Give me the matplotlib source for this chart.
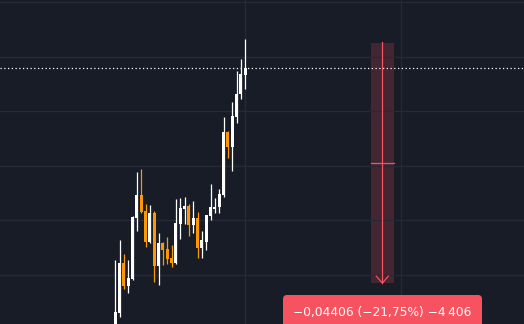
import matplotlib
matplotlib.use("Agg")
import matplotlib.pyplot as plt
from matplotlib.patches import Rectangle, FancyBboxPatch
import numpy as np

# candles (open, high, low, close)
opens = [0.14993, 0.15304, 0.16220, 0.15799, 0.15927, 0.17044, 0.17465, 0.17172,
         0.16604, 0.17136, 0.16165, 0.16586, 0.16476, 0.16311, 0.16220, 0.16934,
         0.17209, 0.17264, 0.16916, 0.17044, 0.16495, 0.16604, 0.17081, 0.17209,
         0.17245, 0.17465, 0.18619, 0.18344, 0.18894, 0.19315, 0.19663]
highs = [0.16275, 0.16641, 0.16385, 0.16275, 0.17081, 0.17886, 0.17941, 0.17300,
         0.17282, 0.17172, 0.16769, 0.16604, 0.16696, 0.16549, 0.17392, 0.17410,
         0.17429, 0.17300, 0.17355, 0.17154, 0.16806, 0.17099, 0.17667, 0.17410,
         0.17575, 0.18894, 0.18637, 0.19169, 0.19736, 0.19956, 0.20322]
lows = [0.14901, 0.15231, 0.15744, 0.15670, 0.15908, 0.16806, 0.17136, 0.16513,
        0.16586, 0.15872, 0.15817, 0.16183, 0.16201, 0.16147, 0.16201, 0.16659,
        0.16934, 0.16714, 0.16769, 0.16311, 0.16311, 0.16458, 0.17007, 0.17136,
        0.17136, 0.17429, 0.18143, 0.17905, 0.18784, 0.19223, 0.19407]
closes = [0.15322, 0.16220, 0.15799, 0.15945, 0.17062, 0.17465, 0.17154, 0.16604,
          0.17136, 0.16165, 0.16586, 0.16458, 0.16293, 0.16220, 0.16952, 0.17227,
          0.17264, 0.16916, 0.17044, 0.16495, 0.16641, 0.17099, 0.17245, 0.17245,
          0.17484, 0.18619, 0.18344, 0.18912, 0.19315, 0.19681, 0.19791]

# price range measurement
measure_start = 0.20257
measure_end = 0.15851
measure_bars = (59.0, 64.25)
measure_label = "\u22120,04406 (\u221221,75%) \u22124\u2009406"

price_grid = [0.16, 0.17, 0.18, 0.19, 0.20, 0.21]
time_grid = [30, 66]

bg = "#181c27"
grid_c = "#262a36"
bull = "#ffffff"
bear = "#ff9800"
red = "#f7525f"

W, H = 524, 324
fig = plt.figure(figsize=(W / 100, H / 100), dpi=100, facecolor=bg)
ax = fig.add_axes([0, 0, 1, 1])
ax.set_facecolor(bg)
ax.set_xlim(-26.61, 94.32)
ax.set_ylim(0.151026, 0.210366)
px_x = (94.32 + 26.61) / W
px_y = (0.210366 - 0.151026) / H

ax.set_yticks(price_grid)
ax.set_xticks(time_grid)
ax.tick_params(length=0, labelleft=False, labelbottom=False)
ax.grid(True, color=grid_c, lw=1.0, zorder=0)
for s in ax.spines.values():
    s.set_visible(False)

# measure box
x0, x1 = measure_bars
ax.add_patch(Rectangle((x0, measure_end), x1 - x0, measure_start - measure_end,
                       facecolor=red, alpha=0.2, edgecolor="none", zorder=1))
xm = (x0 + x1) / 2
ax.plot([xm, xm], [measure_end, measure_start + px_y], color=red, lw=0.9, zorder=2)
ax.plot([x0, x1], [(measure_start + measure_end) / 2] * 2, color=red, lw=0.9, zorder=2)
ax.plot([xm - 6 * px_x, xm, xm + 6 * px_x],
        [measure_end + 7 * px_y, measure_end, measure_end + 7 * px_y],
        color=red, lw=0.9, zorder=2)

# last price line
ax.axhline(closes[-1], color="white", lw=0.9, dashes=(1, 2), zorder=3)

# candles
idx = np.arange(len(opens))
o = np.array(opens)
c = np.array(closes)
cols = [bull if cc >= oo else bear for oo, cc in zip(o, c)]
ax.vlines(idx, lows, highs, colors=cols, lw=0.9, zorder=4)
ax.bar(idx, np.abs(c - o), bottom=np.minimum(o, c), width=0.7, color=cols,
       edgecolor="none", zorder=5)

# label
lab = FancyBboxPatch((283, -10), 199, 39, boxstyle="round,pad=0,rounding_size=4",
                     transform=None, facecolor=red, edgecolor="none", zorder=6)
fig.patches.append(lab)
fig.text(382.5 / W, 11.5 / H, measure_label, color="white", fontsize=8.8,
         ha="center", va="center", family="DejaVu Sans", zorder=7)

fig.savefig("out.png", dpi=100, facecolor=bg)
